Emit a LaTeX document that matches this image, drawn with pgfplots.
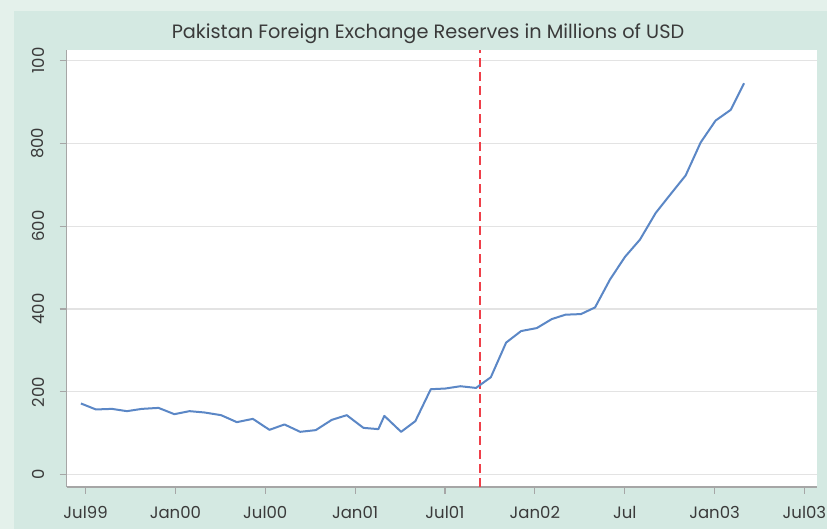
\documentclass[border=0pt]{standalone}
\usepackage{pgfplots}
\pgfplotsset{compat=1.18}
\usepackage{fontspec}
\setmainfont{Poppins}
\definecolor{outerbg}{HTML}{E4F1EB}
\definecolor{innerbg}{HTML}{D4E9E2}
\definecolor{linec}{HTML}{5B87C6}
\definecolor{redc}{HTML}{EF3F49}
\definecolor{gridc}{HTML}{E3E3E3}
\definecolor{axc}{HTML}{A6A6A6}
\definecolor{txt}{HTML}{3A3A3A}
\begin{document}
\begin{tikzpicture}[x=1pt,y=1pt]
\fill[outerbg] (0,0) rectangle (827,529);
\fill[innerbg] (14,0) rectangle (827,518);
\path[use as bounding box] (0,0) rectangle (827,529);
\node[anchor=base, font=\fontsize{19.3}{22}\selectfont, text=txt, inner sep=0pt] at (428,490.7) {Pakistan Foreign Exchange Reserves in Millions of USD};
\begin{axis}[
  at={(66.7pt,42pt)}, anchor=south west, scale only axis, width=750.3pt, height=437pt,
  xmin=-1.26, xmax=48.84, ymin=-29.6, ymax=1025.5,
  axis background/.style={fill=white},
  axis x line*=bottom, axis y line*=left,
  axis line style={axc, line width=1.2pt},
  xtick={0,6,...,48}, xticklabels={Jul99,Jan00,Jul00,Jan01,Jul01,Jan02,Jul,Jan03,Jul03},
  ytick={0,200,...,1000}, yticklabels={0,200,400,600,800,100},
  tick align=outside, major tick length=7pt,
  tick style={axc, line width=1.2pt},
  ymajorgrids, grid style={gridc, line width=1.2pt},
  ticklabel style={font=\fontsize{16.5}{19}\selectfont, text=txt},
  yticklabel style={rotate=90, anchor=south, yshift=12pt},
  xticklabel style={yshift=-9pt},
  clip=false,
]
\addplot[redc, line width=2.3pt, dash pattern=on 9pt off 5pt] coordinates {(26.36,-29.6) (26.36,1025.5)};
\addplot[linec, line width=2pt, line join=round] coordinates {
(-0.31,172.0) (0.69,157.6) (1.76,159.0) (2.76,153.5) (3.76,159.0) (4.87,161.4)
(5.93,146.2) (6.94,153.5) (7.94,150.3) (9.05,143.8) (10.10,127.0) (11.17,134.9)
(12.28,108.4) (13.28,121.4) (14.33,103.6) (15.37,107.7) (16.44,132.5) (17.44,143.8)
(18.55,113.2) (19.55,110.1) (19.95,142.1) (21.07,103.6) (22.02,129.4) (23.05,206.5)
(24.01,208.1) (25.03,213.7) (26.07,209.6) (27.06,235.4) (28.08,319.0) (29.08,346.9)
(30.13,354.1) (31.13,375.8) (32.04,386.4) (33.08,387.9) (34.02,404.0) (35.02,471.5)
(36.02,526.1) (37.02,567.8) (38.07,632.1) (39.09,678.6) (40.07,722.7) (41.07,802.2)
(42.07,855.2) (43.08,881.0) (43.97,945.3)
};
\end{axis}
\end{tikzpicture}
\end{document}
